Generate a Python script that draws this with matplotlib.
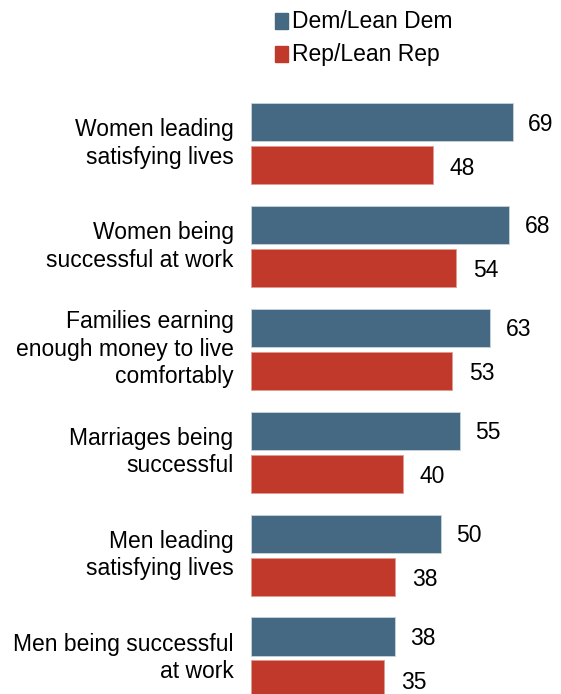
import matplotlib.pyplot as plt
from matplotlib.patches import Rectangle

categories = ["Women leading\nsatisfying lives",
              "Women being\nsuccessful at work",
              "Families earning\nenough money to live\ncomfortably",
              "Marriages being\nsuccessful",
              "Men leading\nsatisfying lives",
              "Men being successful\nat work"]
dem = [69, 68, 63, 55, 50, 38]
rep = [48, 54, 53, 40, 38, 35]
series_names = ["Dem/Lean Dem", "Rep/Lean Rep"]

blue = '#456983'
red = '#c0392b'

plt.rcParams['font.family'] = ['Liberation Sans', 'DejaVu Sans']

W, H = 561, 694
fig = plt.figure(figsize=(W / 100, H / 100), dpi=100)
ax = fig.add_axes([251 / W, 0, 310 / W, 1])
ax.set_xlim(0, 310 / 3.797)
ax.set_ylim((H - 143.5) / 102.9, -143.5 / 102.9)
ax.axis('off')

bh = 0.37
off = 0.209
fs = 16.5
for i, (cat, d, r) in enumerate(zip(categories, dem, rep)):
    ax.barh(i - off, d, height=bh, color=blue, edgecolor='#c8d3dc', linewidth=0.6)
    ax.barh(i + off, r, height=bh, color=red, edgecolor='#e29a92', linewidth=0.6)
    ax.text(d + 4.0, i - off + 0.02, str(d), ha='left', va='center', fontsize=fs, color='#000000')
    ax.text(r + 4.4, i + off + 0.03, str(r), ha='left', va='center', fontsize=fs, color='#000000')
    ax.text(-4.6, i, cat, ha='right', va='center', fontsize=fs, color='#000000',
            linespacing=1.25, clip_on=False)

# legend at the top
for k, (name, col) in enumerate(zip(series_names, [blue, red])):
    yc = 21 + k * 33
    fig.patches.append(Rectangle((275 / W, 1 - (yc + 8) / H), 13 / W, 16 / H,
                                 transform=fig.transFigure, color=col))
    fig.text(292 / W, 1 - yc / H, name, ha='left', va='center', fontsize=fs, color='#000000')

fig.savefig('out.png', dpi=100)
